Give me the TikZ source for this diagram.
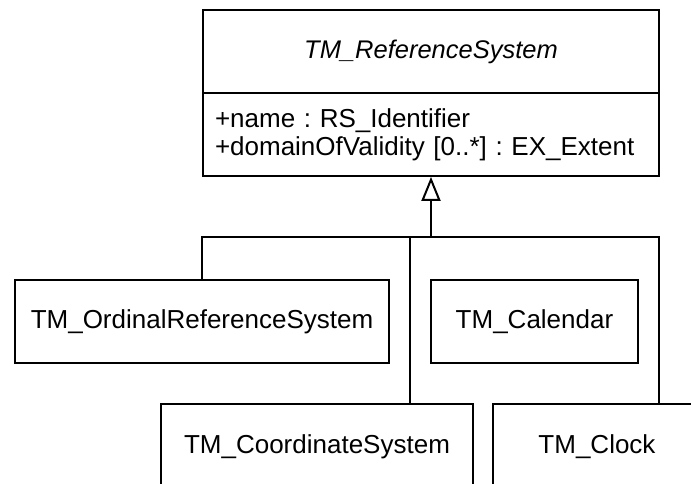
\documentclass[tikz,border=0pt]{standalone}
\usepackage{fontspec}
\setmainfont{Liberation Sans}
\usetikzlibrary{arrows.meta}
\frenchspacing
\begin{document}
\begin{tikzpicture}[x=1pt,y=-1pt,
  box/.style={draw, line width=1.8pt, inner sep=0pt, font=\fontsize{26}{28}\selectfont},
  conn/.style={line width=2pt}]
\useasboundingbox (0,0) rectangle (691,484);
\clip (0,0) rectangle (691,484);
% top class
\node[box, minimum width=456pt, minimum height=83pt, font=\fontsize{25.5}{28}\selectfont\itshape] (rs) at (431,51.5) {TM\_ReferenceSystem};
\node[box, minimum width=456pt, minimum height=83pt, text width=432pt, inner xsep=12pt, align=left] (attr) at (431,134.5) {+name : RS\_Identifier\\+domainOfValidity [0..*] : EX\_Extent};
% subclasses
\node[box, minimum width=374pt, minimum height=83pt] (ord) at (202,321.5) {TM\_OrdinalReferenceSystem};
\node[box, minimum width=207pt, minimum height=83pt] (cal) at (534.5,321.5) {TM\_Calendar};
\node[box, minimum width=312pt, minimum height=86pt] (coord) at (317,447) {TM\_CoordinateSystem};
\node[box, minimum width=208pt, minimum height=86pt] (clock) at (597,447) {TM\_Clock};
% connectors
\coordinate (j) at (431,237);
\coordinate (hr) at (659,237);
\coordinate (jc) at (410,237);
\draw[conn] (ord.north) |- (hr) -- (hr |- clock.north);
\draw[conn] (jc) -- (jc |- coord.north);
\draw[conn, -{Triangle[open, length=24pt, width=19pt, line width=2pt]}] (j) -- (attr.south);
\end{tikzpicture}
\end{document}
